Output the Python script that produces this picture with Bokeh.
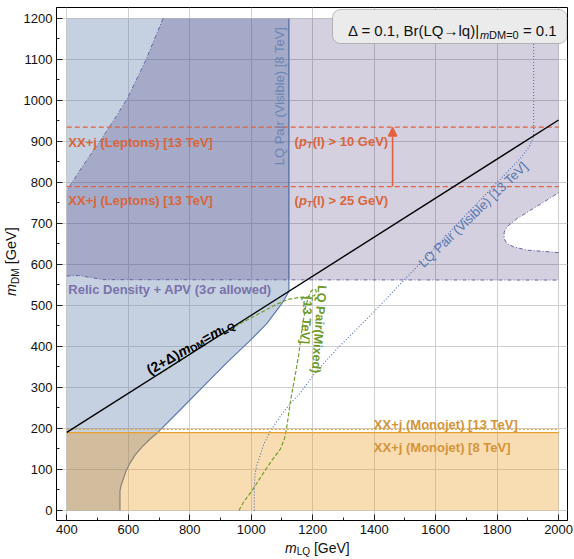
import math
from bokeh.plotting import figure
from bokeh.models import Label, Arrow, NormalHead, FixedTicker, BoxAnnotation, Div
from bokeh.layouts import row, column
from bokeh.embed import file_html
from bokeh.resources import INLINE

# ---------------- data ----------------
x_ticks = [400, 600, 800, 1000, 1200, 1400, 1600, 1800, 2000]
x_minor = [500, 700, 900, 1100, 1300, 1500, 1700, 1900]
y_ticks = [0, 100, 200, 300, 400, 500, 600, 700, 800, 900, 1000, 1100, 1200]
y_minor = [50, 150, 250, 350, 450, 550, 650, 750, 850, 950, 1050, 1150]

# LQ pair (visible) 8 TeV excluded region (blue)
lq8_x = [400, 573, 573, 577, 583, 592, 605, 622, 645, 672, 697, 775, 850, 920, 990, 1050, 1100, 1122.6, 1122.6, 400]
lq8_y = [0, 0, 48, 62, 75, 95, 115, 135, 155, 175, 191, 250, 307, 360, 410, 455, 505, 534, 1200, 1200]

# Relic density + APV (3 sigma allowed) region (purple)
relic_x = [400, 440, 480, 520, 2000, 2000, 1951, 1897, 1854, 1832, 1823, 1823, 1832, 1865, 1908, 1962, 2000,
           2000, 713, 657, 597, 560, 510, 450, 400]
relic_y = [572, 573, 568, 563, 562, 629, 632, 635, 643, 651, 663, 679, 692, 712, 732, 757, 775,
           1200, 1200, 1098, 1005, 960, 903, 838, 780]

# Monojet bounds
mono_x = [400, 2000]
mono8_y = [190, 190]
mono13_y = [198, 198]

# Lepton bounds
lep_x = [400, 2000]
lep10_y = [935, 935]
lep25_y = [790, 790]

# (2+Delta) mDM = mLQ
kin_x = [400, 2000]
kin_y = [190.5, 952.4]

# LQ pair (visible) 13 TeV (blue dotted)
vis13_x = [1010, 1010, 1013, 1018, 1025, 1040, 1063, 1095, 1128, 1160, 1204, 1280, 1400, 1496, 1600, 1700,
           1800, 1875, 1905, 1919, 1919]
vis13_y = [0, 60, 92, 110, 125, 160, 195, 230, 262, 287, 332, 395, 485, 561, 642, 722,
           800, 858, 888, 912, 1200]

# LQ pair (mixed) 13 TeV (green dashed)
mixed_x = [960, 975, 1003, 1030, 1052, 1075, 1095, 1108, 1115, 1128, 1144, 1155, 1166, 1177, 1185, 1193,
           1202, 1210, 1212, 1205, 1185, 1160, 1120, 1085, 1030, 965, 900, 835, 770, 700]
mixed_y = [0, 20, 49, 80, 106, 130, 150, 175, 200, 268, 334, 382, 447, 496, 518, 533,
           540, 538, 530, 524, 521, 520, 515, 504, 482, 456, 428, 398, 366, 332]

# ---------------- styling ----------------
FONT = "Liberation Sans"
C_BLUE = "#5a7ab0"
C_PURPLE_LINE = "#6b63a3"
C_PURPLE_TXT = "#7a72aa"
C_ORANGE = "#e8a030"
C_ORANGE_TXT = "#d4943a"
C_RED = "#e4603a"
C_RED_TXT = "#d9663a"
C_GREEN = "#74a02c"
C_GREEN_TXT = "#6f9a2a"

YLAB_W = 20
XLAB_H = 20

p = figure(width=574 - YLAB_W, height=559 - XLAB_H, x_range=(366.5, 2029), y_range=(-24.4, 1226.8),
           output_backend="svg", toolbar_location=None,
           min_border_left=56 - YLAB_W, min_border_right=7, min_border_top=7, min_border_bottom=19)
p.background_fill_color = "white"
p.border_fill_color = "white"
p.outline_line_color = "black"
p.outline_line_width = 1
p.outline_line_alpha = 1

p.xaxis.ticker = FixedTicker(ticks=x_ticks, minor_ticks=x_minor)
p.yaxis.ticker = FixedTicker(ticks=y_ticks, minor_ticks=y_minor)
for ax in (p.xaxis[0], p.yaxis[0]):
    ax.major_tick_in = 6
    ax.major_tick_out = 0
    ax.minor_tick_in = 3
    ax.minor_tick_out = 0
    ax.major_tick_line_color = "#222222"
    ax.minor_tick_line_color = "#222222"
    ax.axis_line_color = "black"
    ax.major_label_text_font = FONT
    ax.major_label_text_font_size = "13px"
    ax.major_label_text_color = "#111111"
    ax.major_label_standoff = 4
p.grid.grid_line_color = "#cfcfcf"
p.grid.grid_line_width = 1

# ---------------- regions ----------------
p.patch(lq8_x, lq8_y, fill_color=(90, 120, 170), fill_alpha=0.35, line_color=None)
p.line(lq8_x[1:-1], lq8_y[1:-1], line_color=C_BLUE, line_width=1.2)
p.patch([mono_x[0], mono_x[1], mono_x[1], mono_x[0]], [0, 0, mono8_y[1], mono8_y[0]],
        fill_color=(235, 150, 20), fill_alpha=0.33, line_color=None)
p.patch(relic_x, relic_y, fill_color=(40, 20, 100), fill_alpha=0.2, line_color=None)

# relic boundaries (dash-dot)
p.line(relic_x[0:5], relic_y[0:5], line_color=C_PURPLE_LINE, line_width=1, line_dash="4 2 1 2")
p.line(relic_x[5:17], relic_y[5:17], line_color=C_PURPLE_LINE, line_width=1, line_dash="4 2 1 2")
p.line(relic_x[18:], relic_y[18:], line_color=C_PURPLE_LINE, line_width=1, line_dash="4 2 1 2")

# curves
p.line(mixed_x, mixed_y, line_color=C_GREEN, line_width=1.2, line_dash="4 2")
p.line(vis13_x, vis13_y, line_color="#4a6fb5", line_width=1.1, line_dash="1 2")
p.line(mono_x, mono8_y, line_color=C_ORANGE, line_width=1.4)
p.line(mono_x, mono13_y, line_color=C_ORANGE, line_width=1.2, line_dash="2 2")
p.line(lep_x, lep10_y, line_color=C_RED, line_width=1.2, line_dash="5 3")
p.line(lep_x, lep25_y, line_color=C_RED, line_width=1.2, line_dash="5 3")
p.line(kin_x, kin_y, line_color="black", line_width=1.4)

p.add_layout(Arrow(end=NormalHead(size=9, fill_color=C_RED, line_color=C_RED, line_width=1),
                   x_start=1460, y_start=lep25_y[0], x_end=1460, y_end=lep10_y[0],
                   line_color=C_RED, line_width=1.6))

# ---------------- rich text helper ----------------
REG = {' ': .278, '(': .333, ')': .333, '[': .278, ']': .278, '+': .584, '=': .584, '>': .584, '|': .26,
       ',': .278, '.': .278, 'Δ': .668, '→': 1.0, 'σ': .62, 'A': .667, 'B': .667, 'D': .722, 'G': .778,
       'L': .556, 'M': .833, 'P': .667, 'Q': .778, 'R': .722, 'T': .611, 'V': .667, 'X': .667,
       'a': .556, 'b': .556, 'd': .556, 'e': .556, 'i': .222, 'j': .222, 'l': .222, 'm': .833, 'n': .556,
       'o': .556, 'p': .556, 'q': .556, 'r': .333, 's': .5, 't': .278, 'w': .722, 'x': .5, 'y': .5}
BOLD = {' ': .278, '(': .333, ')': .333, '[': .333, ']': .333, '+': .584, '=': .584, '>': .584, '|': .28,
        ',': .278, '.': .278, 'Δ': .722, '→': 1.0, 'σ': .68, 'A': .722, 'D': .722, 'G': .778, 'L': .611,
        'M': .833, 'P': .667, 'Q': .778, 'R': .722, 'T': .611, 'V': .667, 'X': .667, 'a': .556, 'd': .611,
        'e': .556, 'i': .278, 'j': .278, 'l': .278, 'm': .889, 'n': .611, 'o': .611, 'p': .611, 'r': .389,
        's': .556, 't': .333, 'w': .778, 'x': .556, 'y': .556}


def text_width(s, size, bold):
    tbl = BOLD if bold else REG
    return sum(tbl.get(c, .556) for c in s) * size


def rich(x, y, pieces, color, bold=False, angle=0.0):
    th = math.radians(angle)
    ux, uy = math.cos(th), math.sin(th)
    nx, ny = -math.sin(th), math.cos(th)
    adv = 0.0
    for txt, size, italic, shift in pieces:
        lead = len(txt) - len(txt.lstrip(" "))
        adv += text_width(" " * lead, size, bold)
        core = txt.lstrip(" ")
        style = " ".join(s for s in (("bold" if bold else ""), ("italic" if italic else "")) if s) or "normal"
        p.add_layout(Label(x=x, y=y, x_offset=adv * ux + shift * nx, y_offset=adv * uy + shift * ny,
                           text=core, angle=th, text_font=FONT, text_font_size=f"{size}px",
                           text_font_style=style, text_color=color, text_align="left",
                           text_baseline="alphabetic"))
        adv += text_width(core, size, bold)


def label(x, y, txt, color, size=13, style="bold", angle=0.0, align="left", baseline="alphabetic"):
    p.add_layout(Label(x=x, y=y, text=txt, angle=math.radians(angle), text_font=FONT,
                       text_font_size=f"{size}px", text_font_style=style, text_color=color,
                       text_align=align, text_baseline=baseline))


# ---------------- texts ----------------
label(405, 898, "XX+j (Leptons) [13 TeV]", C_RED_TXT)
label(405, 757, "XX+j (Leptons) [13 TeV]", C_RED_TXT)
rich(1141, 899, [("(", 13, False, 0), ("p", 13, True, 0), ("T", 9.5, True, -3), ("(l) > 10 GeV)", 13, False, 0)],
     C_RED_TXT, bold=True)
rich(1141, 757, [("(", 13, False, 0), ("p", 13, True, 0), ("T", 9.5, True, -3), ("(l) > 25 GeV)", 13, False, 0)],
     C_RED_TXT, bold=True)
rich(405, 539, [("Relic Density + APV (3", 13, False, 0), ("σ", 13, True, 0), (" allowed)", 13, False, 0)],
     C_PURPLE_TXT, bold=True)
label(1399, 210, "XX+j (Monojet) [13 TeV]", C_ORANGE_TXT)
label(1399, 154.5, "XX+j (Monojet) [8 TeV]", C_ORANGE_TXT)
label(1115, 842, "LQ Pair (Visible) [8 TeV]", "#6a86b5", size=13, style="normal", angle=90, baseline="bottom")
label(1722, 722, "LQ Pair (Visible) [13 TeV]", "#5577b0", size=13, style="normal", angle=44,
      align="center", baseline="middle")
label(1220, 442, "LQ Pair(Mixed)", C_GREEN_TXT, size=12.5, angle=-94, align="center", baseline="middle")
label(1179, 464, "[13 TeV]", C_GREEN_TXT, size=12.5, angle=-94, align="center", baseline="middle")
rich(663, 341, [("(2+Δ)", 14, False, 0), ("m", 14, True, 0), ("DM", 10, False, -3), ("=", 14, False, 0),
                ("m", 14, True, 0), ("LQ", 10, False, -3)], "black", bold=True, angle=29.5)

# legend-like box
p.add_layout(BoxAnnotation(left=1264.5, right=2027.5, top=1222, bottom=1139, fill_color="#ebebeb",
                           fill_alpha=1, line_color="#444444", line_width=1, border_radius=8))
rich(1315, 1170, [("Δ = 0.1, Br(LQ→lq)|", 15, False, 0), ("m", 11, True, -4), ("DM=0", 11, False, -4),
                  (" = 0.1", 15, False, 0)], "#111111")

# ---------------- axis titles (HTML text beside the figure) ----------------
ylab = Div(width=YLAB_W, height=559 - XLAB_H, margin=(0, 0, 0, 0),
           text=('<div style="position:absolute; left:3px; top:296px; transform-origin:0 0; '
                 'transform:rotate(-90deg); white-space:nowrap; font-family:\'Liberation Sans\'; '
                 'font-size:14.5px; line-height:16px; color:#111;">'
                 '<i>m</i><span style="font-size:10px; position:relative; top:3px;">DM</span> [GeV]</div>'))
xlab = Div(width=574, height=XLAB_H, margin=(0, 0, 0, 0),
           text=('<div style="position:absolute; left:285px; top:2px; white-space:nowrap; '
                 'font-family:\'Liberation Sans\'; font-size:14px; line-height:14px; color:#111;">'
                 '<i>m</i><span style="font-size:10px; position:relative; top:2px;">LQ</span> [GeV]</div>'))

layout = column(row(ylab, p, spacing=0), xlab, spacing=0)
open("out.html", "w").write(file_html(layout, INLINE))
